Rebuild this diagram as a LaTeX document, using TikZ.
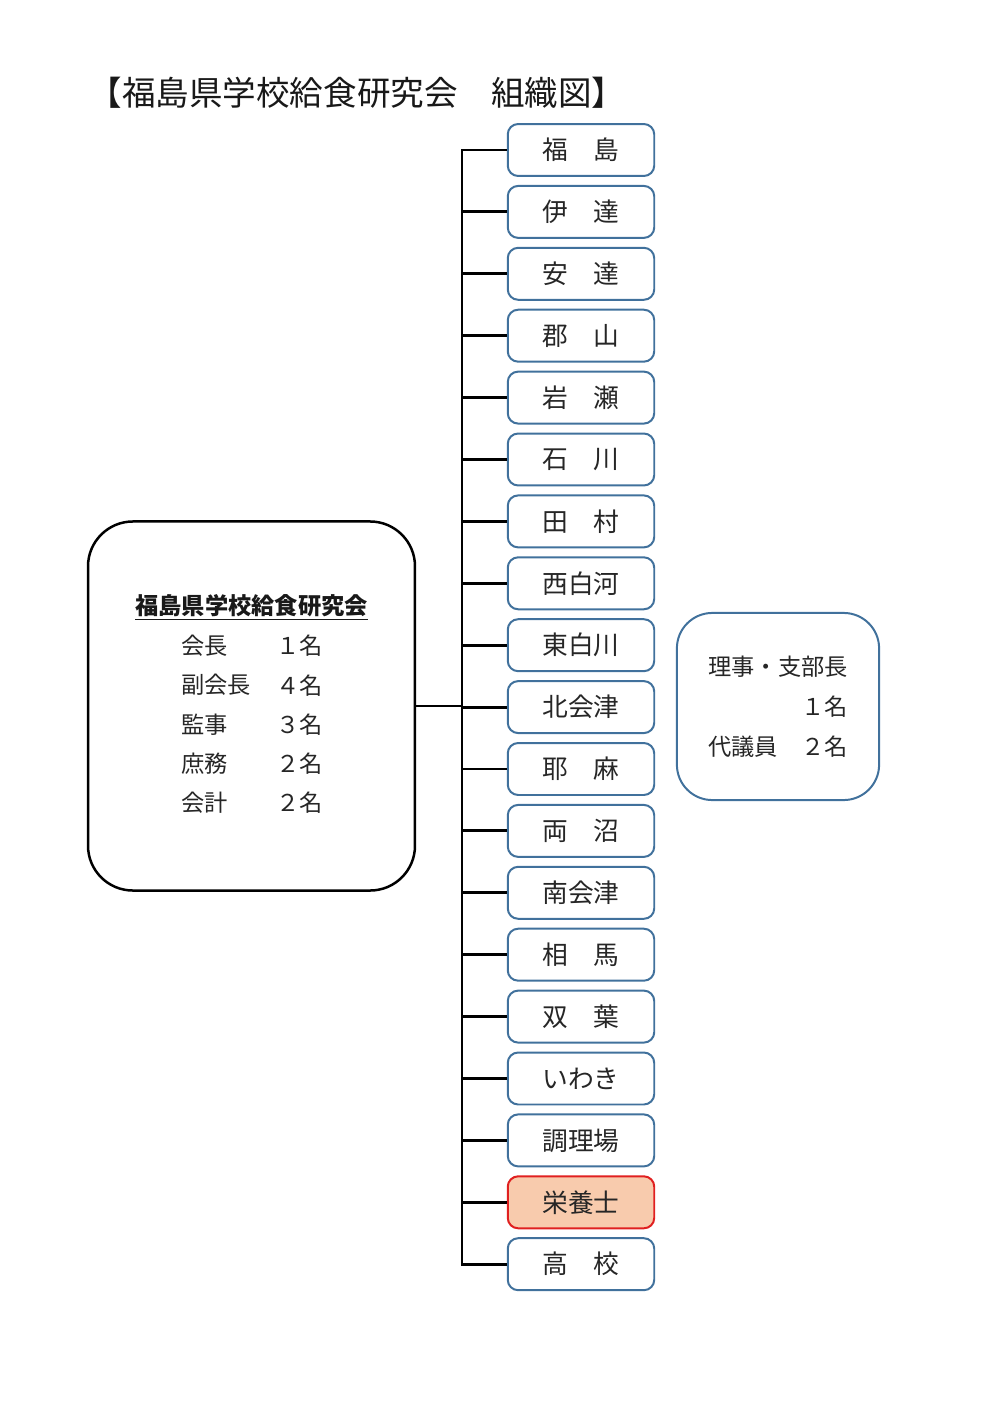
\documentclass[tikz,border=0pt]{standalone}
\usepackage{fontspec}
\setmainfont{Noto Sans CJK JP}
\usetikzlibrary{calc}
\definecolor{branchline}{RGB}{65,113,156}
\definecolor{eiyofill}{RGB}{248,203,173}
\definecolor{eiyoline}{RGB}{224,32,32}
\def\branchfont{\fontsize{15.5}{18}\selectfont}
\def\listfont{\fontsize{14}{17}\selectfont}
\tikzset{
  branch/.style={draw=branchline,line width=1.2pt,rounded corners=0.22cm,
    minimum width=3.1cm,minimum height=1.1cm,font=\branchfont,text=black!85},
  eiyo/.style={branch,draw=eiyoline,fill=eiyofill},
  link/.style={line width=1.7pt},
  entry/.style={anchor=west,inner sep=0pt,font=\listfont,text=black!85},
}

\begin{document}
\begin{tikzpicture}[x=0.02117cm,y=-0.02117cm]
    \useasboundingbox (0,0) rectangle (992,1403);
    \node[font=\fontsize{20.2}{23}\selectfont,text=black!90] (title) at (357,93) {【福島県学校給食研究会　組織図】};
    \coordinate (hub) at (462,706);
    \foreach \name/\kind [count=\i] in {福　島/branch,伊　達/branch,安　達/branch,郡　山/branch,
        岩　瀬/branch,石　川/branch,田　村/branch,西白河/branch,東白川/branch,北会津/branch,
        耶　麻/branch,両　沼/branch,南会津/branch,相　馬/branch,双　葉/branch,いわき/branch,
        調理場/branch,栄養士/eiyo,高　校/branch} {
        \node[\kind] (b\i) at (581,{150+61.9*(\i-1)}) {\name};
        \draw[link] (b\i.west) -| (hub);
    }
    \node[draw,line width=1.5pt,rounded corners=0.95cm,minimum width=6.92cm,minimum height=7.81cm] (council) at (251.5,706) {};
    \draw[link] (council.east) -- (hub);
    \node[font=\bfseries\listfont,text=black!90] (org) at (251.5,607) {\underline{福島県学校給食研究会}};
    \foreach \role/\num [count=\j] in {会長/１名,副会長/４名,監事/３名,庶務/２名,会計/２名} {
        \node[entry] (role\j) at (181,{646+39.2*(\j-1)}) {\role};
        \node[entry] (num\j) at (276,{646+39.2*(\j-1)}) {\num};
    }
    \node[draw=branchline,line width=1.2pt,rounded corners=0.75cm,minimum width=4.28cm,minimum height=3.96cm,
        align=right,font=\fontsize{14}{24}\selectfont,text=black!85] (board) at (778,706.5) {理事・支部長\\１名\\代議員　２名};
\end{tikzpicture}
\end{document}
